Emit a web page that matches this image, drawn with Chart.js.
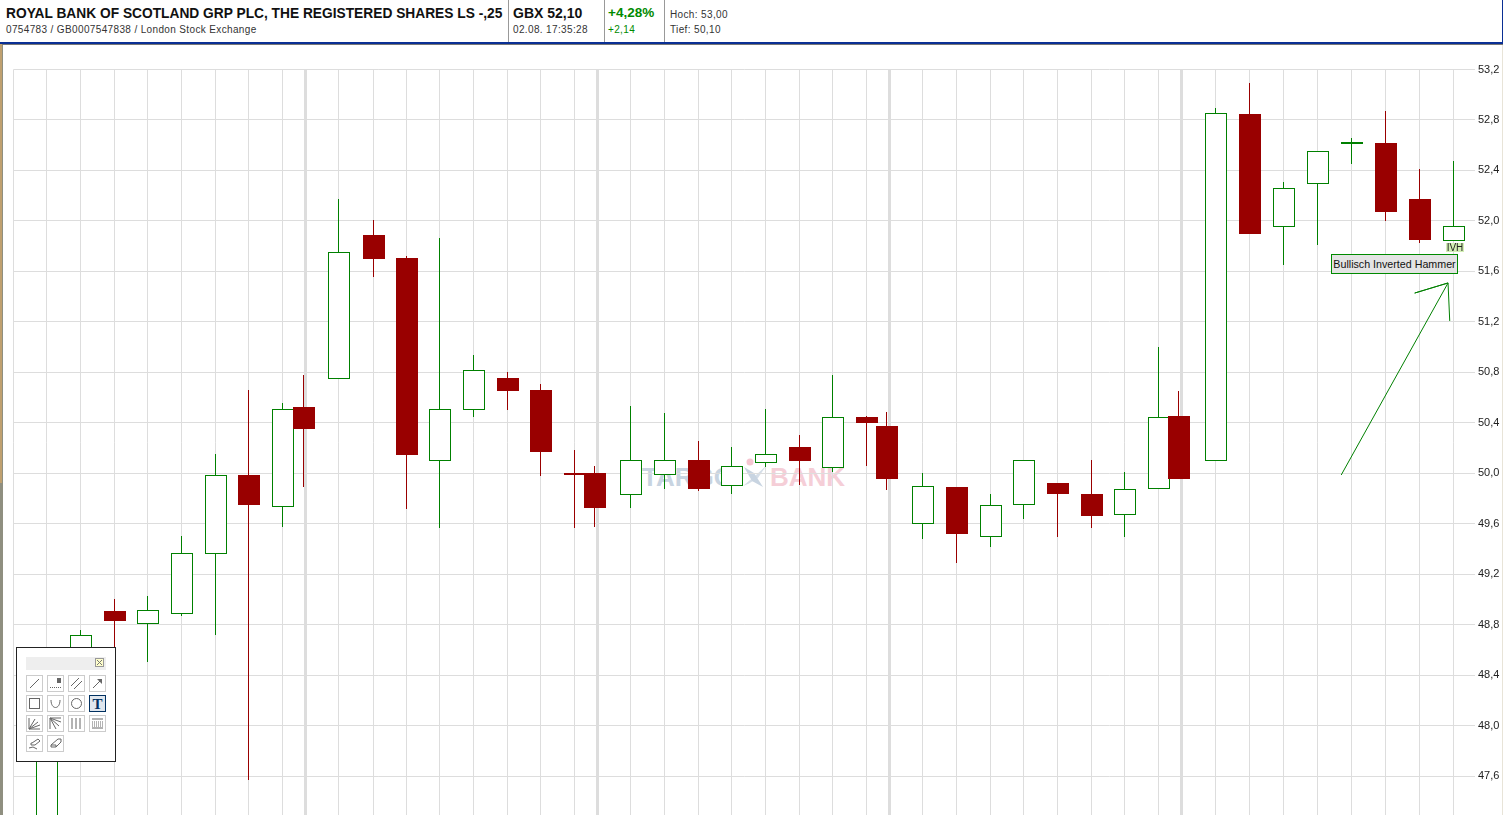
<!DOCTYPE html>
<html lang="de">
<head>
<meta charset="utf-8">
<title>Royal Bank of Scotland</title>
<script src="https://cdn.jsdelivr.net/npm/chart.js@4"></script>
<style>
html,body{margin:0;padding:0;background:#fff;width:1505px;height:815px;overflow:hidden;font-family:"Liberation Sans",Arial,sans-serif}
.a{position:absolute;white-space:nowrap}
#c{position:absolute;left:0;top:0}
.b{font-weight:bold;font-size:14px;color:#111}
.s{font-size:10px;color:#333;letter-spacing:.36px}
.sep{position:absolute;top:0;width:1px;height:42px;background:#999}
.btn{position:absolute;width:15px;height:15px;border:1px solid #ccc;background:#fff}
.btn svg{position:absolute;left:0;top:0}
</style>
</head>
<body>
<div class="a" style="left:0;top:42px;width:1503px;height:2px;background:#0a2f94"></div>
<div class="a" style="left:1502px;top:0;width:1px;height:43px;background:#0a2f94"></div>
<div class="a" style="left:0;top:44px;width:1503px;height:1px;background:#777"></div>
<div class="a" style="left:1502px;top:45px;width:1px;height:770px;background:#e8e4d8"></div>
<div class="a" style="left:0;top:44px;width:2px;height:439px;background:#bfa06f"></div>
<div class="a" style="left:2px;top:45px;width:1px;height:770px;background:#8f8f80"></div>
<div class="a" style="left:0;top:483px;width:2px;height:332px;background:#8f8f80"></div>

<div class="a b" style="left:6px;top:6px;font-size:13.75px">ROYAL BANK OF SCOTLAND GRP PLC, THE REGISTERED SHARES LS -,25</div>
<div class="a s" style="left:6px;top:24px">0754783 / GB0007547838 / London Stock Exchange</div>
<div class="sep" style="left:508px"></div>
<div class="a b" style="left:513px;top:5px">GBX 52,10</div>
<div class="a s" style="left:513px;top:24px">02.08. 17:35:28</div>
<div class="sep" style="left:604px"></div>
<div class="a b" style="left:608px;top:5px;color:#008a00;font-size:13.5px">+4,28%</div>
<div class="a s" style="left:608px;top:24px;color:#008a00">+2,14</div>
<div class="sep" style="left:664px"></div>
<div class="a s" style="left:670px;top:9px">Hoch: 53,00</div>
<div class="a s" style="left:670px;top:24px">Tief: 50,10</div>

<div class="a" style="left:642px;top:462px;font-size:26px;font-weight:bold;color:#c8d4e1;line-height:30px">TARGO</div>
<div class="a" style="left:770px;top:462px;font-size:26px;font-weight:bold;color:#f5ced7;line-height:30px">BANK</div>
<svg class="a" style="left:738px;top:454px" width="30" height="36">
<circle cx="12" cy="8" r="3.5" fill="#f5c6d1"/>
<path d="M5 32 L18 21 L28 12 L20 24 L10 30 Z" fill="#d5dee8"/>
<path d="M6 13 L16 19 L25 33 L14 27 Z" fill="#c8d4e1"/>
</svg>

<canvas id="c" width="1505" height="815"></canvas>

<div class="a" style="left:1446px;top:243px;width:18px;height:9px;background:#d3efb4;color:#222;font-size:10px;line-height:9px;text-align:center">IVH</div>
<div class="a" style="left:1331px;top:254px;width:125px;height:18px;background:#e4e4e4;border:1px solid #008a00;color:#111;font-size:10.7px;line-height:18px;text-align:center">Bullisch Inverted Hammer</div>

<div id="panel" class="a" style="left:16px;top:647px;width:98px;height:113px;background:#fff;border:1px solid #222">
  <div class="a" style="left:9px;top:9px;width:80px;height:13px;background:#eee"></div>
  <div class="a" style="left:78px;top:10px;width:7px;height:7px;background:#ffffcc;border:1px solid #999"></div>
  <svg class="a" style="left:79px;top:11px" width="7" height="7"><path d="M1 1L6 6M6 1L1 6" stroke="#777" fill="none"/></svg>
</div>

<script>
// candle slot positions (session slots, day breaks fall between whole sessions)
const slots = [0.99,1.99,3.00,3.98,4.99,5.99,6.97,7.98,8.60,9.64,10.67,11.66,12.64,13.65,14.66,15.64,16.65,17.25,18.31,19.32,20.33,21.31,22.31,23.32,24.30,25.31,25.92,26.97,27.98,28.99,29.97,30.98,31.99,32.97,33.98,34.58,35.67,36.68,37.69,38.69,39.70,40.71,41.72,42.73];
const opens = [47.172,48.361,48.908,48.810,48.890,49.365,49.986,49.738,50.525,50.752,51.888,51.706,50.102,50.507,50.755,50.660,50.002,50.002,49.838,49.996,50.105,49.909,50.087,50.208,50.052,50.446,50.374,49.603,49.891,49.500,49.754,49.922,49.835,49.674,49.880,50.454,50.102,52.847,51.957,52.298,52.614,52.618,52.174,51.849];
const closes = [48.519,48.715,48.829,48.913,49.365,49.984,49.748,50.507,50.351,51.751,51.698,50.144,50.507,50.816,50.652,50.168,49.986,49.724,50.102,50.102,49.875,50.055,50.150,50.097,50.443,50.398,49.954,49.896,49.518,49.746,50.102,49.835,49.661,49.873,50.443,49.954,52.853,51.896,52.258,52.552,52.622,52.071,51.849,51.960];
const highs = [48.625,48.757,49.003,49.027,49.502,50.152,50.660,50.557,50.779,52.174,52.007,51.722,51.864,50.937,50.802,50.707,50.184,50.057,50.533,50.477,50.255,50.208,50.509,50.303,50.779,50.454,50.485,50.002,49.891,49.835,50.102,49.922,50.105,50.010,51.001,50.652,52.895,53.093,52.308,52.552,52.657,52.871,52.411,52.475];
const lows = [47.093,48.202,48.282,48.506,48.868,48.718,47.568,49.576,49.893,50.752,51.558,49.716,49.568,50.446,50.501,49.978,49.568,49.574,49.724,49.875,49.859,49.835,50.049,49.907,50.010,50.057,49.867,49.479,49.288,49.415,49.637,49.494,49.566,49.494,49.880,49.954,50.102,51.896,51.650,51.809,52.451,51.999,51.825,51.849];
const priceTicks = [47.6,48.0,48.4,48.8,49.2,49.6,50.0,50.4,50.8,51.2,51.6,52.0,52.4,52.8,53.2];
const gridSlots = [0,0.99,1.99,3.00,3.98,4.99,5.99,6.97,7.98,9.64,10.67,11.66,12.64,13.65,14.66,15.64,16.65,18.31,19.32,20.33,21.31,22.31,23.32,24.30,25.31,26.97,27.98,28.99,29.97,30.98,31.99,32.97,33.98,35.67,36.68,37.69,38.69,39.70,40.71,41.72,42.73];
const daySlots = [8.67,17.33,25.99,34.67];
const arrowSlots = [39.40,42.57,41.58,42.57,42.62];
const arrowPrices = [49.986,51.508,51.428,51.508,51.207];

const GREEN = '#008000', RED = '#990000';
const isUp = i => closes[i] >= opens[i];
const idx = slots.map((_, i) => i);
const body = list => list.map(i => ({x: slots[i], y: [opens[i], closes[i]]}));

const snap = {
  id: 'snap',
  beforeDatasetsDraw(chart) {
    chart.data.datasets.forEach((ds, d) => {
      if (ds.type === 'line') return;
      chart.getDatasetMeta(d).data.forEach(el => {
        const c = Math.round(el.x - 0.5) + 0.5;
        el.x = ds.label === 'wick' ? c : c + 0.5;
        el.y = Math.round(el.y);
        el.base = Math.round(el.base) + (ds.label === 'up' ? 1 : 0);
      });
    });
  }
};

new Chart(document.getElementById('c'), {
  type: 'bar',
  plugins: [snap],
  data: {
    datasets: [
      {label:'arrow', type:'line', order:0, data: arrowSlots.map((x,i)=>({x, y:arrowPrices[i]})), borderColor:GREEN, borderWidth:1, pointRadius:0, tension:0, fill:false},
      {label:'down', order:1, data: body(idx.filter(i=>!isUp(i))), backgroundColor:RED, borderWidth:0, inflateAmount:0, barThickness:22, grouped:false},
      {label:'up', order:2, data: body(idx.filter(isUp)), backgroundColor:'#fff', borderColor:GREEN, borderWidth:1, inflateAmount:0, borderSkipped:false, barThickness:22, grouped:false},
      {label:'wick', order:3, data: idx.map(i=>({x:slots[i], y:[lows[i], highs[i]]})), backgroundColor: idx.map(i=>isUp(i)?GREEN:RED), borderWidth:0, inflateAmount:0, barThickness:1, grouped:false}
    ]
  },
  options: {
    responsive:false,
    animation:false,
    events:[],
    layout:{padding:{top:69.5,left:13.5,right:0,bottom:0}},
    plugins:{legend:{display:false},tooltip:{enabled:false}},
    scales:{
      x:{
        type:'linear', min:0, max:43.37, offset:false,
        border:{display:false},
        ticks:{display:false, autoSkip:false, padding:0, backdropPadding:0},
        afterBuildTicks:s=>{s.ticks=[...gridSlots,...daySlots].sort((a,b)=>a-b).map(value=>({value}));},
        afterFit:s=>{s.height=0;s.paddingLeft=0;s.paddingRight=0;},
        grid:{color:'#dddddd', drawTicks:false, offset:false, lineWidth:c=>daySlots.includes(c.tick&&c.tick.value)?3:1}
      },
      y:{
        position:'right', min:47.291, max:53.2,
        border:{display:false},
        afterBuildTicks:s=>{s.ticks=priceTicks.map(value=>({value}));},
        afterFit:s=>{s.width=30;s.paddingTop=0;s.paddingBottom=0;},
        ticks:{autoSkip:false, padding:3, color:'#222', font:{family:'"Liberation Sans"',size:11}, callback:v=>v.toFixed(1).replace('.',',')},
        grid:{color:'#dddddd', drawTicks:false}
      }
    }
  }
});

// drawing-tool palette
const ink = 'stroke="#666" fill="none"';
const icons = [
  `<path d="M3 12L12 3" ${ink}/>`,
  `<path d="M2 11.5H13" stroke="#666" stroke-dasharray="1 1"/><path d="M9 2H13V7H9Z" fill="#666"/>`,
  `<path d="M2 10L10 2M5 13L13 5" ${ink}/>`,
  `<path d="M3 12L11 4" ${ink}/><path d="M7 3H12V8Z" fill="#666"/>`,
  `<rect x="2.5" y="2.5" width="10" height="10" ${ink}/>`,
  `<path d="M3 4C3 14 12 14 12 4" ${ink}/>`,
  `<circle cx="7.5" cy="7.5" r="5" ${ink}/>`,
  `<text x="7.5" y="13" text-anchor="middle" font-family="Liberation Serif" font-weight="bold" font-size="15" fill="#003060">T</text>`,
  `<path d="M2 2V13H13M2 13L8 3M2 13L11 6M2 13L13 9" ${ink}/>`,
  `<path d="M2 13V2H13M2 2L8 13M2 2L11 10M2 2L13 6" ${ink}/>`,
  `<path d="M3 2V13M7 2V13M11 2V13" ${ink}/>`,
  `<path d="M2 3H13M2 12H13" ${ink}/><path d="M2 6H13M2 8H13M2 10H13" stroke="#666" stroke-dasharray="1 1"/>`,
  `<path d="M5 7L11 3L13 5L8 9H4V7ZM2 12L6 11L10 13" ${ink}/>`,
  `<path d="M3 9L10 3H13V6L8 11H3ZM3 9H8V11" ${ink}/>`
];
const panel = document.getElementById('panel');
icons.forEach((svg, i) => {
  const b = document.createElement('div');
  b.className = 'btn';
  b.style.left = (9 + (i % 4) * 21) + 'px';
  b.style.top = (27 + Math.floor(i / 4) * 20) + 'px';
  if (i === 7) { b.style.background = '#dfe6ee'; b.style.borderColor = '#003060'; }
  b.innerHTML = `<svg width="15" height="15">${svg}</svg>`;
  panel.appendChild(b);
});
</script>
</body>
</html>
